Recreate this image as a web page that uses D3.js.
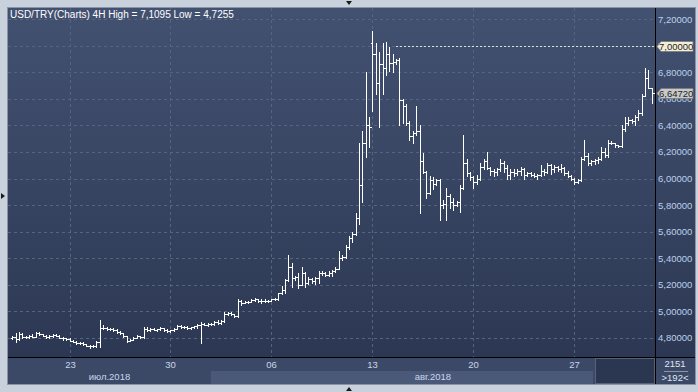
<!DOCTYPE html>
<html><head><meta charset="utf-8">
<script src="https://cdn.jsdelivr.net/npm/d3@7"></script>
<style>
html,body{margin:0;padding:0;background:#c8d1dc;overflow:hidden;}
svg{display:block;font-family:"Liberation Sans",Arial,sans-serif;}
</style></head><body>
<svg id="chart" width="698" height="392"></svg>
<script>
// USD/TRY 4H, OHLC bars (19 Jul - 30 Aug 2018)
const opens = [
  4.800,4.805,4.790,4.830,4.808,4.805,4.812,4.808,4.835,4.825,
  4.815,4.805,4.812,4.820,4.815,4.800,4.795,4.790,4.778,4.770,
  4.762,4.758,4.750,4.740,4.735,4.738,4.765,4.875,4.870,4.868,
  4.862,4.855,4.845,4.832,4.812,4.778,4.785,4.798,4.812,4.802,
  4.868,4.858,4.865,4.860,4.862,4.870,4.855,4.852,4.855,4.868,
  4.885,4.880,4.878,4.872,4.878,4.885,4.895,4.905,4.898,4.905,
  4.902,4.918,4.912,4.928,4.980,4.985,4.975,4.962,5.075,5.065,
  5.068,5.072,5.085,5.090,5.078,5.080,5.075,5.080,5.088,5.092,
  5.135,5.160,5.235,5.330,5.250,5.255,5.200,5.290,5.215,5.245,
  5.230,5.250,5.285,5.290,5.275,5.290,5.300,5.320,5.400,5.410,
  5.480,5.550,5.580,5.700,5.950,6.270,6.400,7.020,6.940,6.720,
  6.860,6.830,6.940,6.870,6.880,6.890,6.590,6.550,6.420,6.320,
  6.340,6.360,6.130,6.050,5.890,5.990,5.960,5.985,5.800,5.810,
  5.870,5.820,5.800,5.820,5.930,6.120,6.040,6.010,5.970,6.000,
  6.090,6.130,6.080,6.060,6.050,6.070,6.120,6.080,6.030,6.050,
  6.040,6.060,6.070,6.030,6.040,6.030,6.020,6.025,6.060,6.050,
  6.100,6.070,6.085,6.070,6.080,6.045,6.020,6.000,5.975,5.985,
  6.150,6.170,6.120,6.130,6.140,6.150,6.200,6.180,6.270,6.265,
  6.250,6.245,6.370,6.420,6.440,6.430,6.460,6.490,6.620,6.760,6.680
];
const highs = [
  4.812,4.835,4.842,4.835,4.815,4.820,4.825,4.840,4.840,4.830,
  4.822,4.818,4.825,4.828,4.820,4.808,4.800,4.795,4.785,4.778,
  4.770,4.765,4.755,4.745,4.742,4.775,4.930,4.892,4.878,4.875,
  4.870,4.862,4.850,4.838,4.815,4.790,4.805,4.820,4.815,4.878,
  4.878,4.870,4.872,4.868,4.878,4.875,4.862,4.860,4.872,4.895,
  4.892,4.888,4.885,4.882,4.890,4.905,4.915,4.912,4.910,4.912,
  4.925,4.930,4.935,4.992,4.995,4.990,4.980,5.092,5.085,5.075,
  5.078,5.092,5.100,5.095,5.088,5.090,5.085,5.095,5.100,5.140,
  5.190,5.240,5.420,5.365,5.265,5.290,5.335,5.295,5.255,5.250,
  5.260,5.300,5.300,5.295,5.300,5.310,5.330,5.450,5.420,5.500,
  5.570,5.600,5.740,6.270,6.360,6.800,6.460,7.1095,7.020,6.950,
  7.020,7.030,6.990,6.940,6.900,6.910,6.600,6.560,6.430,6.360,
  6.550,6.400,6.190,6.055,6.020,6.010,6.000,5.995,5.840,5.930,
  5.880,5.850,5.830,5.950,6.330,6.150,6.050,6.020,6.030,6.120,
  6.150,6.200,6.085,6.075,6.080,6.150,6.130,6.100,6.070,6.070,
  6.070,6.090,6.080,6.050,6.050,6.045,6.035,6.105,6.070,6.120,
  6.110,6.100,6.095,6.110,6.090,6.060,6.030,6.005,5.995,6.165,
  6.290,6.190,6.140,6.150,6.160,6.240,6.230,6.290,6.280,6.270,
  6.255,6.400,6.465,6.465,6.450,6.480,6.520,6.640,6.830,6.820,6.685
];
const lows = [
  4.790,4.765,4.785,4.800,4.795,4.800,4.805,4.805,4.820,4.810,
  4.800,4.798,4.808,4.810,4.795,4.785,4.780,4.772,4.765,4.755,
  4.750,4.742,4.735,4.7255,4.728,4.730,4.730,4.862,4.860,4.855,
  4.848,4.838,4.825,4.805,4.770,4.772,4.780,4.795,4.795,4.800,
  4.850,4.852,4.855,4.852,4.855,4.850,4.845,4.842,4.850,4.862,
  4.875,4.870,4.868,4.868,4.872,4.875,4.762,4.892,4.890,4.895,
  4.898,4.905,4.905,4.915,4.968,4.970,4.955,4.958,5.050,5.058,
  5.060,5.068,5.075,5.072,5.065,5.068,5.068,5.078,5.082,5.085,
  5.128,5.140,5.230,5.185,5.235,5.172,5.195,5.185,5.205,5.215,
  5.205,5.215,5.270,5.265,5.265,5.265,5.295,5.315,5.385,5.400,
  5.470,5.520,5.575,5.660,5.820,6.160,6.240,6.510,6.640,6.390,
  6.640,6.780,6.810,6.800,6.860,6.400,6.420,6.400,6.290,6.270,
  6.330,5.740,6.040,5.850,5.880,5.920,5.950,5.690,5.780,5.690,
  5.780,5.760,5.795,5.750,5.920,6.020,5.990,5.930,5.960,5.990,
  6.070,6.070,6.030,6.020,6.030,6.060,6.050,6.000,6.000,6.020,
  6.030,6.030,6.000,6.020,6.020,6.010,6.000,6.020,6.030,6.040,
  6.035,6.050,6.060,6.050,6.030,6.010,5.990,5.955,5.965,5.980,
  6.140,6.100,6.100,6.110,6.120,6.140,6.160,6.160,6.260,6.240,
  6.240,6.240,6.360,6.400,6.420,6.400,6.440,6.480,6.620,6.680,6.570
];
const closes = [
  4.805,4.790,4.830,4.808,4.805,4.812,4.808,4.835,4.825,4.815,
  4.805,4.812,4.820,4.815,4.800,4.795,4.790,4.778,4.770,4.762,
  4.758,4.750,4.740,4.735,4.738,4.765,4.875,4.870,4.868,4.862,
  4.855,4.845,4.832,4.812,4.778,4.785,4.798,4.812,4.802,4.868,
  4.858,4.865,4.860,4.862,4.870,4.855,4.852,4.855,4.868,4.885,
  4.880,4.878,4.872,4.878,4.885,4.895,4.905,4.898,4.905,4.902,
  4.918,4.912,4.928,4.980,4.985,4.975,4.962,5.075,5.065,5.068,
  5.072,5.085,5.090,5.078,5.080,5.075,5.080,5.088,5.092,5.135,
  5.160,5.235,5.330,5.250,5.255,5.200,5.290,5.215,5.245,5.230,
  5.250,5.285,5.290,5.275,5.290,5.300,5.320,5.400,5.410,5.480,
  5.550,5.580,5.700,5.950,6.270,6.400,6.390,6.940,6.720,6.860,
  6.830,6.940,6.870,6.880,6.890,6.590,6.550,6.420,6.320,6.340,
  6.360,6.130,6.050,5.890,5.990,5.960,5.985,5.800,5.810,5.870,
  5.820,5.800,5.820,5.930,6.120,6.040,6.010,5.970,6.000,6.090,
  6.130,6.080,6.060,6.050,6.070,6.120,6.080,6.030,6.050,6.040,
  6.060,6.070,6.030,6.040,6.030,6.020,6.025,6.060,6.050,6.100,
  6.070,6.085,6.070,6.080,6.045,6.020,6.000,5.975,5.985,6.150,
  6.170,6.120,6.130,6.140,6.150,6.200,6.180,6.270,6.265,6.250,
  6.245,6.370,6.420,6.440,6.430,6.460,6.490,6.620,6.760,6.680,6.6472
];

// axis: week starts (bar index) and their day labels, month labels
const dayTickIdx = [17, 47, 77, 107, 137, 167];
const dayTickLabels = ["23", "30", "06", "13", "20", "27"];
const monthStartIdx = [0, 59];
const monthLabels = ["июл.2018", "авг.2018"];
const priceTicks = [4.8, 5.0, 5.2, 5.4, 5.6, 5.8, 6.0, 6.2, 6.4, 6.6, 6.8, 7.0, 7.2];
const alertLevel = 7.0;
const lastPrice = 6.6472;
const title = "USD/TRY(Charts) 4H High = 7,1095 Low = 4,7255";
const barCount = "2151", visibleCount = ">192<";

const bars = opens.map((o, i) => ({ i, o, h: highs[i], l: lows[i], c: closes[i] }));

const svg = d3.select("#chart");
const P = { l: 8, t: 8, r: 655, b: 357 };   // plot box
const AX = { r: 695, b: 384 };              // axis panels outer edge

const x = d3.scaleLinear().domain([0, bars.length - 1]).range([12.3, 651.8]);
const y = d3.scaleLinear().domain([4.8, 7.2]).range([337.7, 19.3]);
const fmt = (v) => d3.format(".5f")(v).replace(".", ",");
const cx = (i) => Math.round(x(i)) + 0.5;
const cy = (v) => Math.round(y(v)) + 0.5;

// background gradient
const defs = svg.append("defs");
const gr = defs.append("linearGradient").attr("id", "bg").attr("x1", 0).attr("x2", 0).attr("y1", 0).attr("y2", 1);
gr.append("stop").attr("offset", "0%").attr("stop-color", "#435171");
gr.append("stop").attr("offset", "100%").attr("stop-color", "#2c3853");

svg.append("rect").attr("x", 0).attr("y", 0).attr("width", 698).attr("height", 392).attr("fill", "#c8d1dc");
svg.append("rect").attr("x", P.l - 1).attr("y", P.t - 1).attr("width", AX.r - P.l + 2).attr("height", AX.b - P.t + 2)
  .attr("fill", "#8995a6");
svg.append("rect").attr("x", P.l).attr("y", P.t).attr("width", AX.r - P.l).attr("height", P.b - P.t)
  .attr("fill", "url(#bg)");

// bottom axis rows
svg.append("rect").attr("x", P.l).attr("y", P.b).attr("width", AX.r - P.l).attr("height", AX.b - P.b).attr("fill", "#3c4966");
svg.append("rect").attr("x", x(monthStartIdx[1])).attr("y", 371).attr("width", 593 - x(monthStartIdx[1])).attr("height", AX.b - 371)
  .attr("fill", "#4b5979");
svg.append("rect").attr("x", 595.5).attr("y", 358.5).attr("width", 59).attr("height", 25)
  .attr("fill", "#2b3650").attr("stroke", "#56627a");
svg.append("rect").attr("x", P.r).attr("y", P.b).attr("width", AX.r - P.r).attr("height", AX.b - P.b).attr("fill", "#3c4966");

// grid
const grid = svg.append("g").attr("stroke", "#56657f").attr("stroke-dasharray", "3,3").attr("stroke-width", 1);
priceTicks.forEach((v) => grid.append("line").attr("x1", P.l).attr("x2", P.r).attr("y1", cy(v)).attr("y2", cy(v)));
dayTickIdx.forEach((i) => grid.append("line").attr("x1", cx(i)).attr("x2", cx(i)).attr("y1", P.t).attr("y2", P.b));

// alert line at 7.0
svg.append("line").attr("x1", 396).attr("x2", P.r).attr("y1", cy(alertLevel)).attr("y2", cy(alertLevel))
  .attr("stroke", "#d8dce4").attr("stroke-dasharray", "2,2");

// OHLC bars
const gb = svg.append("g").attr("stroke", "#ffffff").attr("stroke-width", 1).attr("shape-rendering", "crispEdges");
gb.selectAll("line.hl").data(bars).join("line").attr("class", "hl")
  .attr("x1", (d) => cx(d.i)).attr("x2", (d) => cx(d.i))
  .attr("y1", (d) => Math.round(y(d.h))).attr("y2", (d) => Math.round(y(d.l)) + 1);
gb.selectAll("line.o").data(bars).join("line").attr("class", "o")
  .attr("x1", (d) => cx(d.i) - 2).attr("x2", (d) => cx(d.i))
  .attr("y1", (d) => cy(d.o)).attr("y2", (d) => cy(d.o));
gb.selectAll("line.c").data(bars).join("line").attr("class", "c")
  .attr("x1", (d) => cx(d.i)).attr("x2", (d) => cx(d.i) + 2)
  .attr("y1", (d) => cy(d.c)).attr("y2", (d) => cy(d.c));

// separators
svg.append("line").attr("x1", P.l).attr("x2", AX.r).attr("y1", P.b + 0.5).attr("y2", P.b + 0.5).attr("stroke", "#000");
svg.append("line").attr("x1", P.r + 0.5).attr("x2", P.r + 0.5).attr("y1", P.t).attr("y2", AX.b).attr("stroke", "#000");

// price labels
const tickCol = "#bcd0ec";
svg.append("g").selectAll("text").data(priceTicks).join("text")
  .attr("x", 658).attr("y", (d) => y(d) + 3.5).attr("fill", tickCol).style("font-size", "9.5px").text(fmt);

// highlighted labels (alert + last price)
function tag(v, fill, txt) {
  const yy = Math.round(y(v));
  svg.append("path").attr("d", `M${P.r + 2},${yy + 0.5} L${P.r + 6},${yy - 4.5} L${AX.r - 2},${yy - 4.5} L${AX.r - 2},${yy + 5.5} L${P.r + 6},${yy + 5.5} Z`)
    .attr("fill", fill).attr("stroke", "#7b7b7b").attr("stroke-width", 0.8);
  svg.append("text").attr("x", 659).attr("y", yy + 4).attr("fill", "#1e1e1e").style("font-size", "9.5px").text(txt);
}
tag(alertLevel, "#f3eed8", fmt(alertLevel));
tag(lastPrice, "#c9c9c9", fmt(lastPrice));

// x axis labels
svg.append("g").selectAll("text").data(dayTickIdx).join("text")
  .attr("x", (d) => cx(d)).attr("y", 368).attr("text-anchor", "middle").attr("fill", "#c8d6ea")
  .style("font-size", "9.5px").text((d, i) => dayTickLabels[i]);
const monthEdges = monthStartIdx.map((i) => (i === 0 ? P.l : x(i))).concat([P.r]);
svg.append("g").selectAll("text").data(monthLabels).join("text")
  .attr("x", (d, i) => (monthEdges[i] + monthEdges[i + 1]) / 2).attr("y", 380).attr("text-anchor", "middle")
  .attr("fill", "#c8d6ea").style("font-size", "9.5px").text((d) => d);

// counter box
svg.append("text").attr("x", 675).attr("y", 367).attr("text-anchor", "middle").attr("fill", "#dfe6f0").style("font-size", "9.5px").text(barCount);
svg.append("line").attr("x1", 664).attr("x2", 688).attr("y1", 371.5).attr("y2", 371.5).attr("stroke", "#8a97ab");
svg.append("text").attr("x", 675).attr("y", 381).attr("text-anchor", "middle").attr("fill", "#dfe6f0").style("font-size", "9.5px").text(visibleCount);

// title
svg.append("text").attr("x", 10).attr("y", 18).attr("fill", "#ffffff").style("font-size", "10px").text(title);

// little scroll markers
svg.append("path").attr("d", "M346,1 L352,1 L349,5 Z").attr("fill", "#1a1a1a");
svg.append("path").attr("d", "M346,391 L352,391 L349,387 Z").attr("fill", "#1a1a1a");
svg.append("path").attr("d", "M1,193 L1,199 L5,196 Z").attr("fill", "#1a1a1a");
</script>
</body></html>
